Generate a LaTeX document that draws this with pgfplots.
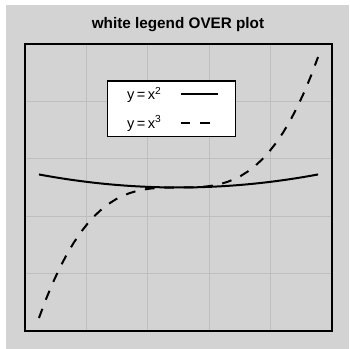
\documentclass[border=0pt]{standalone}
\usepackage{fontspec}
\setmainfont{Liberation Sans}
\usepackage{pgfplots}
\pgfplotsset{compat=1.18}
\definecolor{bg}{HTML}{D3D3D3}
\definecolor{gridc}{HTML}{BEBEBE}
\begin{document}
\begin{tikzpicture}
\fill[white] (0,0) rectangle (251.28pt,251.28pt);
\fill[bg] (4.32pt,0) rectangle (251.28pt,247.68pt);
\node[font=\fontsize{11}{13}\selectfont\bfseries] at (128.16pt,233.28pt) {white legend OVER plot};
\begin{axis}[
  at={(18pt,12.96pt)}, anchor=south west,
  scale only axis, width=221.04pt, height=206.64pt,
  xmin=-11, xmax=11, ymin=-1100, ymax=1100,
  xtick={-6.6,-2.2,2.2,6.6}, ytick={-660,-220,220,660},
  xticklabels={}, yticklabels={},
  major tick length=0pt,
  grid=major,
  major grid style={gridc, line width=1pt},
  axis line style={black, line width=1.44pt},
  legend plot pos=right,
  legend cell align=left,
  legend image code/.code={\draw[#1] (0pt,0pt) -- (27pt,0pt);},
  legend style={at={(0.267,0.8746)}, anchor=north west, fill=white, draw=black, line width=1.1pt,
    font=\fontsize{10.5}{12}\selectfont, inner xsep=12pt, inner ysep=2.5pt, row sep=6pt, column sep=11pt},
]
\addplot[black, line width=1.44pt] coordinates {
(-10,100) (-9.5,90.25) (-9,81) (-8.5,72.25) (-8,64) (-7.5,56.25) (-7,49) (-6.5,42.25) (-6,36) (-5.5,30.25) (-5,25) (-4.5,20.25) (-4,16) (-3.5,12.25) (-3,9) (-2.5,6.25) (-2,4) (-1.5,2.25) (-1,1) (-0.5,0.25) (0,0)
(0.5,0.25) (1,1) (1.5,2.25) (2,4) (2.5,6.25) (3,9) (3.5,12.25) (4,16) (4.5,20.25) (5,25) (5.5,30.25) (6,36) (6.5,42.25) (7,49) (7.5,56.25) (8,64) (8.5,72.25) (9,81) (9.5,90.25) (10,100)};
\addlegendentry{y\,=\,x\textsuperscript{2}}
\addplot[black, line width=1.44pt, dash pattern=on 7pt off 7pt] coordinates {
(-10,-1000) (-9.5,-857.375) (-9,-729) (-8.5,-614.125) (-8,-512) (-7.5,-421.875) (-7,-343) (-6.5,-274.625) (-6,-216) (-5.5,-166.375) (-5,-125) (-4.5,-91.125) (-4,-64) (-3.5,-42.875) (-3,-27) (-2.5,-15.625) (-2,-8) (-1.5,-3.375) (-1,-1) (-0.5,-0.125) (0,0)
(0.5,0.125) (1,1) (1.5,3.375) (2,8) (2.5,15.625) (3,27) (3.5,42.875) (4,64) (4.5,91.125) (5,125) (5.5,166.375) (6,216) (6.5,274.625) (7,343) (7.5,421.875) (8,512) (8.5,614.125) (9,729) (9.5,857.375) (10,1000)};
\addlegendentry{y\,=\,x\textsuperscript{3}}
\end{axis}
\end{tikzpicture}
\end{document}
